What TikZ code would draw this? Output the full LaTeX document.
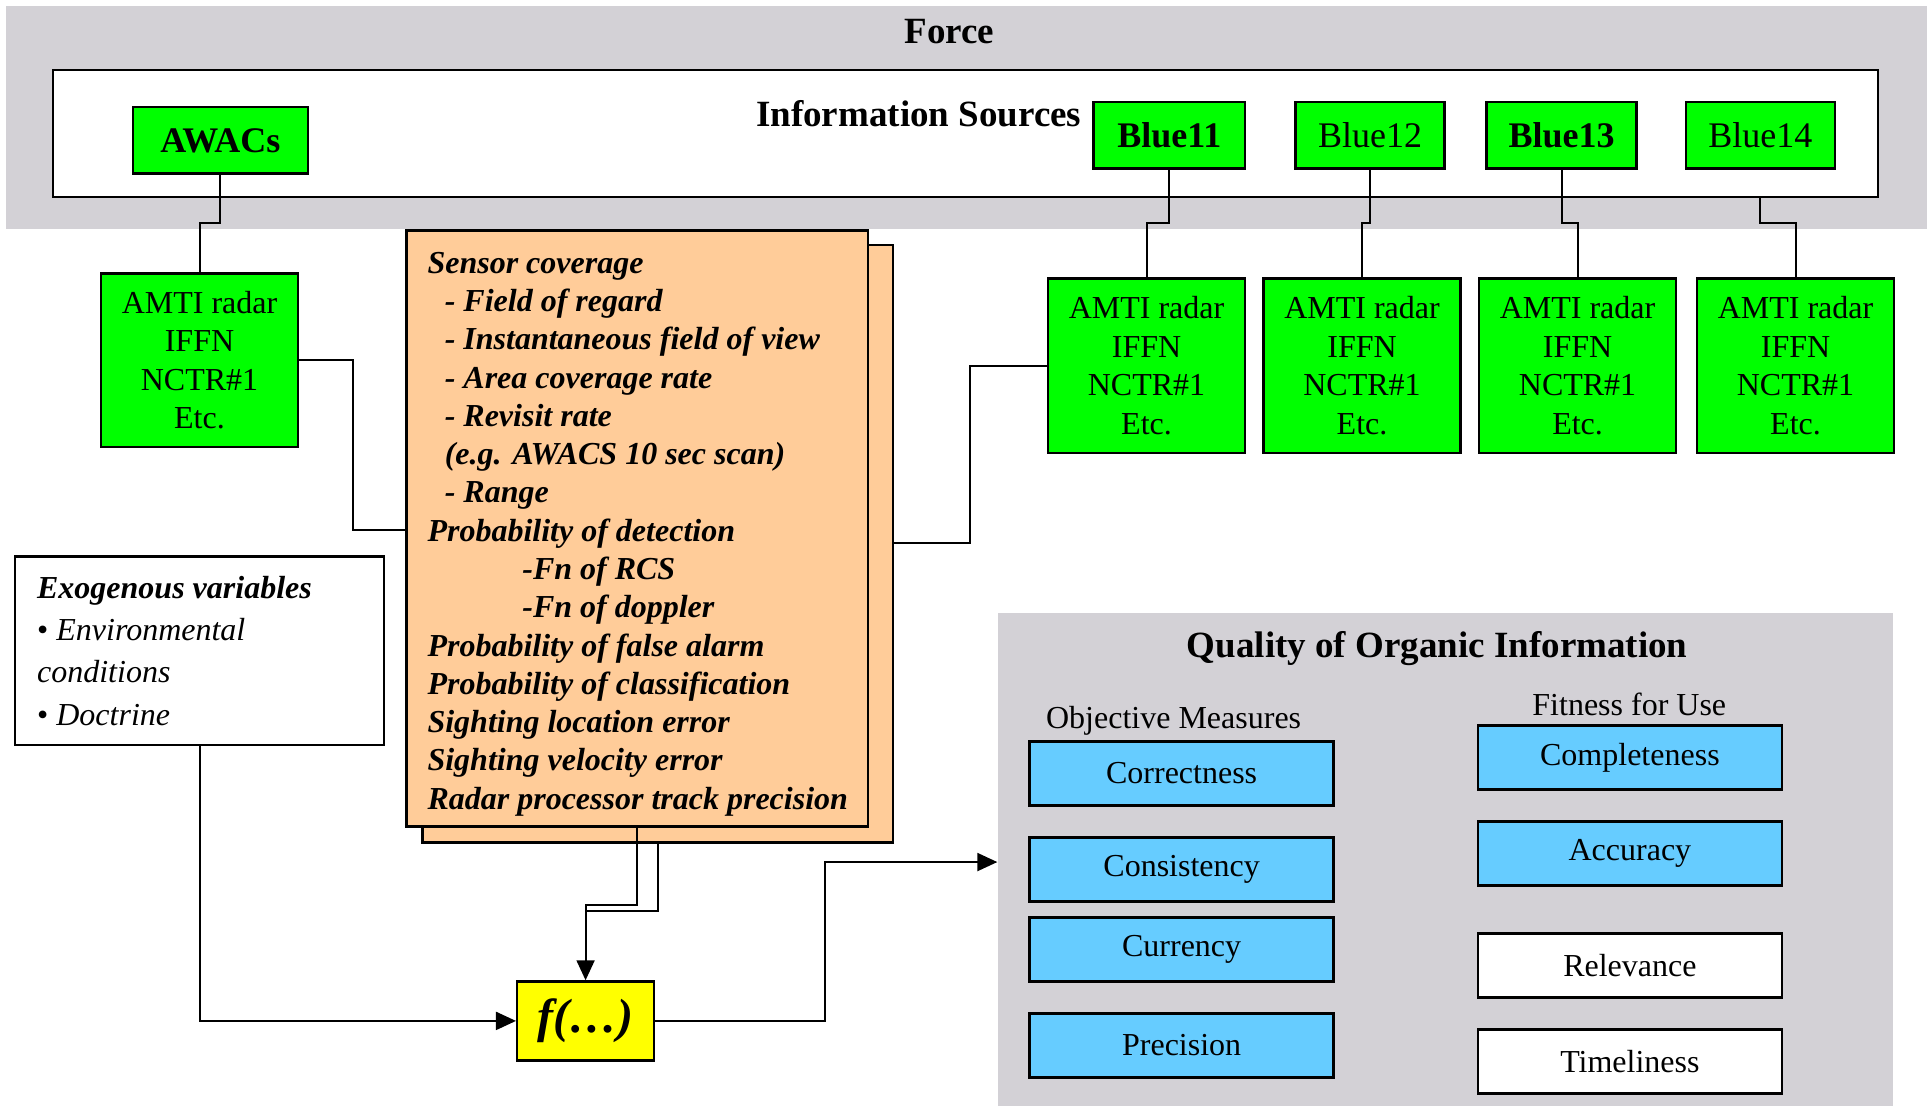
\documentclass[tikz,border=0pt]{standalone}
\usepackage{fontspec}
\setmainfont{Liberation Serif}
\usetikzlibrary{arrows.meta,fit}

\definecolor{panelgray}{RGB}{211,209,214}
\definecolor{srcgreen}{RGB}{0,255,0}
\definecolor{peach}{RGB}{255,204,153}
\definecolor{fyellow}{RGB}{255,255,0}
\definecolor{qblue}{RGB}{102,204,255}

\newcommand{\fsz}[2]{\fontsize{#1}{#2}\selectfont}

\begin{document}
\begin{tikzpicture}[x=1.2315pt,y=-1.2315pt,
  frame/.style={draw=black,line width=2.5pt,inner sep=0pt},
  wh/.style 2 args={minimum width=#1*1.2315pt,minimum height=#2*1.2315pt},
  src/.style={frame,fill=srcgreen,font=\fsz{36}{40}},
  srcb/.style={src,font=\bfseries\fsz{36}{40}},
  sensor/.style={frame,fill=srcgreen,align=center,font=\fsz{32}{38.5},wh={160}{142}},
  attr/.style={frame,fill=qblue,font=\fsz{32}{38},wh={247}{52}},
  attrw/.style={attr,fill=white},
  txt/.style={inner sep=0pt},
  title/.style={txt,font=\bfseries\fsz{37}{40}},
  sheettext/.style={txt,anchor=base west,font=\bfseries\itshape\fsz{32}{38}},
  link/.style={line width=2pt},
  feed/.style={link,-{Triangle[length=20pt,width=18pt]}},
]
\useasboundingbox (0,0) rectangle (1568,898);

% force panel and the information sources frame
\fill[panelgray] (5,5) rectangle (1565,186);
\node[title] (force) at (771,26) {Force};
\node[draw=black,line width=2pt,fill=white,inner sep=0pt,fit={(43,57)(1525,160)}] (srcframe) {};
\node[title] (infosrc) at (746,92) {Information Sources};

% platforms
\node[srcb,wh={142}{54}] (awacs) at (179,114) {AWACs};
\node[srcb,wh={123}{54}] (blue11) at (949.5,110) {Blue11};
\node[src,wh={121}{54}] (blue12) at (1112.5,110) {Blue12};
\node[srcb,wh={122}{54}] (blue13) at (1268,110) {Blue13};
\node[src,wh={121}{54}] (blue14) at (1429.5,110) {Blue14};

% sensor suites
\node[sensor,wh={160}{141}] (amti0) at (162,292.5) {AMTI radar\\IFFN\\NCTR\#1\\Etc.};
\node[sensor] (amti1) at (931,297) {AMTI radar\\IFFN\\NCTR\#1\\Etc.};
\node[sensor] (amti2) at (1106,297) {AMTI radar\\IFFN\\NCTR\#1\\Etc.};
\node[sensor] (amti3) at (1281,297) {AMTI radar\\IFFN\\NCTR\#1\\Etc.};
\node[sensor] (amti4) at (1458,297) {AMTI radar\\IFFN\\NCTR\#1\\Etc.};

% platform to sensor links
\draw[link] (awacs.south) -- (awacs.south |- 0,181) -| (amti0.north);
\draw[link] (blue11.south) -- (blue11.south |- 0,181) -| (amti1.north);
\draw[link] (blue12.south) -- (blue12.south |- 0,181) -| (amti2.north);
\draw[link] (blue13.south) -- (blue13.south |- 0,181) -| (amti3.north);
\draw[link] (blue14 |- srcframe.south) -- (blue14 |- 0,181) -| (amti4.north);

% stacked sheet of sensor performance parameters
\node[frame,fill=peach,fit={(343,199)(725,684)}] (sheetback) {};
\node[frame,fill=peach,fit={(330,187)(705,671)}] (sheetfront) {};
\foreach \i/\dx/\t in {
  0/0/{Sensor coverage},
  1/14/{- Field of regard},
  2/14/{- Instantaneous field of view},
  3/14/{- Area coverage rate},
  4/14/{- Revisit rate},
  5/14/{(e.g. AWACS 10 sec scan)},
  6/14/{- Range},
  7/0/{Probability of detection},
  8/77/{-Fn of RCS},
  9/77/{-Fn of doppler},
  10/0/{Probability of false alarm},
  11/0/{Probability of classification},
  12/0/{Sighting location error},
  13/0/{Sighting velocity error},
  14/0/{Radar processor track precision}}
  \node[sheettext] (sheetline\i) at (347+\dx,222+31.07*\i) {\t};

% exogenous variables
\node[draw=black,line width=2.5pt,fill=white,inner sep=0pt,fit={(12,452)(312,605)}] (exog) {};
\node[txt,anchor=base west,font=\bfseries\itshape\fsz{32}{38}] (exog1) at (30,486) {Exogenous variables};
\node[txt,anchor=base west,font=\itshape\fsz{32}{38}] (exog2) at (30,520) {\upshape•\itshape\ Environmental};
\node[txt,anchor=base west,font=\itshape\fsz{32}{38}] (exog3) at (30,554) {conditions};
\node[txt,anchor=base west,font=\itshape\fsz{32}{38}] (exog4) at (30,589) {\upshape•\itshape\ Doctrine};

% combining function
\node[frame,fill=fyellow,font=\bfseries\itshape\fsz{48}{50},wh={111}{64}] (fbox) at (475.5,829) {f(…)};

% quality of organic information
\node[fill=panelgray,inner sep=0pt,fit={(810,498)(1537,898)}] (quality) {};
\node[title] (qtitle) at (1167,527) {Quality of Organic Information};
\node[txt,font=\fsz{32}{38}] (objm) at (953,585) {Objective Measures};
\node[txt,font=\fsz{32}{38}] (fitu) at (1323,572) {Fitness for Use};
\node[attr] (correct) at (959.5,628) {Correctness};
\node[attr] (consist) at (959.5,706) {Consistency};
\node[attr] (currency) at (959.5,771) {Currency};
\node[attr] (precision) at (959.5,849) {Precision};
\node[attr] (complete) at (1323.5,615) {Completeness};
\node[attr] (accuracy) at (1323.5,693) {Accuracy};
\node[attrw] (relevance) at (1323.5,784) {Relevance};
\node[attrw] (timely) at (1323.5,862) {Timeliness};

% flows
\coordinate (j1) at (287,430);
\draw[link] (amti0.east) -| (j1) -- (j1 -| sheetfront.west);
\coordinate (j2) at (788,441);
\draw[link] (j2 -| sheetback.east) -- (j2) |- (amti1.west);
\draw[feed] (sheetfront.south) -- (sheetfront.south |- 0,735) -| (fbox.north);
\draw[link] (sheetback.south) -- (sheetback.south |- 0,740) -- (fbox.north |- 0,740);
\draw[feed] (exog.south) |- (fbox.west);
\coordinate (j3) at (670,700);
\draw[feed] (fbox.east) -| (j3) -- (j3 -| quality.west);
\end{tikzpicture}
\end{document}
